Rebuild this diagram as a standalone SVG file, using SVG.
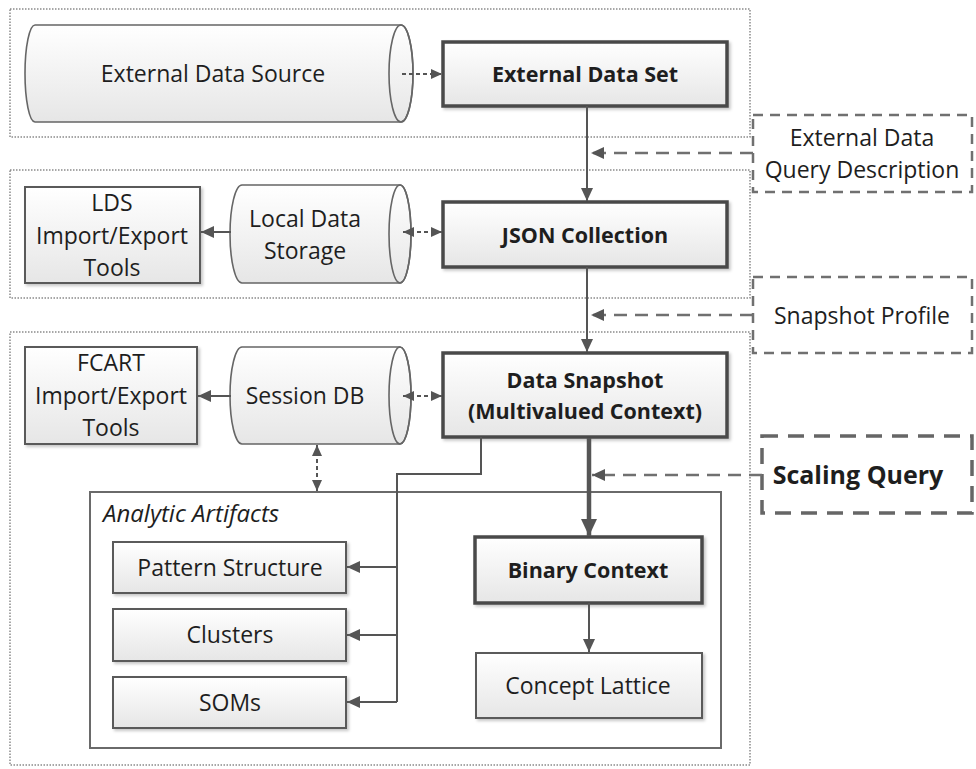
<svg xmlns="http://www.w3.org/2000/svg" width="976" height="769" viewBox="0 0 976 769">
<defs>
<linearGradient id="g" x1="0" y1="0" x2="0" y2="1">
<stop offset="0" stop-color="#ffffff"/>
<stop offset="1" stop-color="#e6e6e6"/>
</linearGradient>
<filter id="sh" x="-10%" y="-10%" width="130%" height="140%">
<feDropShadow dx="2" dy="2" stdDeviation="1.5" flood-color="#000" flood-opacity="0.22"/>
</filter>
<marker id="ah" markerUnits="userSpaceOnUse" markerWidth="14" markerHeight="14" viewBox="0 0 14 14" refX="13" refY="7" orient="auto-start-reverse">
<path d="M0,1 L13,7 L0,13 Z" fill="#555"/>
</marker>
<marker id="ahs" markerUnits="userSpaceOnUse" markerWidth="12" markerHeight="12" viewBox="0 0 12 12" refX="11" refY="6" orient="auto-start-reverse">
<path d="M0,1 L11,6 L0,11 Z" fill="#555"/>
</marker>
<marker id="ahb" markerUnits="userSpaceOnUse" markerWidth="18" markerHeight="18" viewBox="0 0 18 18" refX="17" refY="9" orient="auto-start-reverse">
<path d="M0,1 L17,9 L0,17 Z" fill="#555"/>
</marker>
</defs>
<style>
.cont{fill:none;stroke:#8a8a8a;stroke-width:1.5;stroke-dasharray:1.5 1.5}
.box{fill:url(#g);stroke:#5a5a5a;stroke-width:2;filter:url(#sh)}
.tbox{fill:url(#g);stroke:#4a4a4a;stroke-width:3.5;filter:url(#sh)}
.cyl{fill:url(#g);stroke:#666;stroke-width:1.6}
.dbox{fill:#fff;stroke:#707070;stroke-width:2.5;stroke-dasharray:10 7}
.dboxb{fill:#fff;stroke:#666;stroke-width:3.5;stroke-dasharray:16 10}
.ab{fill:#fff;stroke:#6a6a6a;stroke-width:2}
text{font-family:"Open Sans","Liberation Sans",sans-serif;fill:#1e1e1e;text-anchor:middle;dominant-baseline:central}
.t{font-size:23px}
.b{font-size:21.5px;font-weight:bold}
.sq{font-size:25px;font-weight:bold}
.it{font-size:24px;font-style:italic;text-anchor:start}
.c{fill:none;stroke:#555;stroke-width:2}
.cd{fill:none;stroke:#707070;stroke-width:2.5;stroke-dasharray:13 8}
.cs{fill:none;stroke:#555;stroke-width:2;stroke-dasharray:4 3}
</style>

<g id="containers">
<rect class="cont" x="10" y="9" width="740" height="128"/>
<rect class="cont" x="10" y="170" width="740" height="128"/>
<rect class="cont" x="10" y="332" width="740" height="433"/>
</g>

<g id="analytic-artifacts">
<rect class="ab" x="90" y="492" width="631" height="256"/>
<text class="it" x="103" y="512">Analytic Artifacts</text>
</g>

<g id="external-data-source">
<path class="cyl" d="M35,25 L401,25 A12,48.5 0 0 1 401,122 L35,122 A10,48.5 0 0 1 35,25 Z"/>
<ellipse cx="401" cy="73.5" rx="12" ry="48.5" fill="none" stroke="#666" stroke-width="1.6"/>
<text class="t" x="213" y="73">External Data Source</text>
</g>

<g id="external-data-set">
<rect class="tbox" x="443" y="42" width="284" height="64"/>
<text class="b" x="585" y="73">External Data Set</text>
</g>

<g id="external-data-query-description">
<rect class="dbox" x="753" y="115" width="219" height="77"/>
<text class="t" x="862" y="137">External Data</text>
<text class="t" x="862" y="169">Query Description</text>
</g>

<g id="lds-tools">
<rect class="box" x="25" y="187" width="175" height="96"/>
<text class="t" x="112" y="202">LDS</text>
<text class="t" x="112" y="235">Import/Export</text>
<text class="t" x="112" y="267">Tools</text>
</g>

<g id="local-data-storage">
<path class="cyl" d="M242,185 L400,185 A11,49 0 0 1 400,283 L242,283 A12,49 0 0 1 242,185 Z"/>
<ellipse cx="400" cy="234" rx="11" ry="49" fill="none" stroke="#666" stroke-width="1.6"/>
<text class="t" x="305" y="218">Local Data</text>
<text class="t" x="305" y="250">Storage</text>
</g>

<g id="json-collection">
<rect class="tbox" x="443" y="202" width="284" height="65"/>
<text class="b" x="585" y="234">JSON Collection</text>
</g>

<g id="snapshot-profile">
<rect class="dbox" x="753" y="277" width="219" height="76"/>
<text class="t" x="862" y="315">Snapshot Profile</text>
</g>

<g id="fcart-tools">
<rect class="box" x="25" y="347" width="172" height="97"/>
<text class="t" x="111" y="362">FCART</text>
<text class="t" x="111" y="395">Import/Export</text>
<text class="t" x="111" y="427">Tools</text>
</g>

<g id="session-db">
<path class="cyl" d="M242,347 L400,347 A11,48.5 0 0 1 400,444 L242,444 A12,48.5 0 0 1 242,347 Z"/>
<ellipse cx="400" cy="395.5" rx="11" ry="48.5" fill="none" stroke="#666" stroke-width="1.6"/>
<text class="t" x="305" y="395">Session DB</text>
</g>

<g id="data-snapshot">
<rect class="tbox" x="443" y="353" width="284" height="84"/>
<text class="b" x="585" y="379">Data Snapshot</text>
<text class="b" x="585" y="410">(Multivalued Context)</text>
</g>

<g id="scaling-query">
<rect class="dboxb" x="762" y="436" width="210" height="77"/>
<text class="sq" x="858" y="474">Scaling Query</text>
</g>

<g id="pattern-structure">
<rect class="box" x="113" y="542" width="233" height="51"/>
<text class="t" x="230" y="567">Pattern Structure</text>
</g>

<g id="clusters">
<rect class="box" x="113" y="609" width="233" height="52"/>
<text class="t" x="230" y="634">Clusters</text>
</g>

<g id="soms">
<rect class="box" x="113" y="677" width="233" height="51"/>
<text class="t" x="230" y="702">SOMs</text>
</g>

<g id="binary-context">
<rect class="tbox" x="475" y="537" width="227" height="66"/>
<text class="b" x="588" y="569">Binary Context</text>
</g>

<g id="concept-lattice">
<rect class="box" x="476" y="653" width="226" height="65"/>
<text class="t" x="588" y="685">Concept Lattice</text>
</g>

<g id="connectors">
<line class="cs" x1="402" y1="74" x2="442" y2="74" marker-end="url(#ahs)"/>
<line class="c" x1="587" y1="106" x2="587" y2="201" marker-end="url(#ah)"/>
<line class="cd" x1="753" y1="153" x2="591" y2="153" marker-end="url(#ah)"/>
<line class="c" x1="231" y1="232" x2="201" y2="232" marker-end="url(#ah)"/>
<line class="cs" x1="403" y1="232" x2="442" y2="232" marker-start="url(#ahs)" marker-end="url(#ahs)"/>
<line class="c" x1="587" y1="267" x2="587" y2="352" marker-end="url(#ah)"/>
<line class="cd" x1="753" y1="315" x2="591" y2="315" marker-end="url(#ah)"/>
<line class="c" x1="231" y1="396" x2="198" y2="396" marker-end="url(#ah)"/>
<line class="cs" x1="403" y1="396" x2="442" y2="396" marker-start="url(#ahs)" marker-end="url(#ahs)"/>
<line class="cs" x1="317" y1="445" x2="317" y2="491" marker-start="url(#ahs)" marker-end="url(#ahs)"/>
<line fill="none" stroke="#555" stroke-width="4.5" x1="589" y1="438" x2="589" y2="536" marker-end="url(#ahb)"/>
<line class="cd" x1="762" y1="475" x2="592" y2="475" marker-end="url(#ah)"/>
<line class="c" x1="589" y1="603" x2="589" y2="652" marker-end="url(#ah)"/>
<polyline class="c" points="481,437 481,474 397,474 397,702"/>
<line class="c" x1="397" y1="567" x2="347" y2="567" marker-end="url(#ah)"/>
<line class="c" x1="397" y1="635" x2="347" y2="635" marker-end="url(#ah)"/>
<line class="c" x1="397" y1="702" x2="347" y2="702" marker-end="url(#ah)"/>
</g>
</svg>
